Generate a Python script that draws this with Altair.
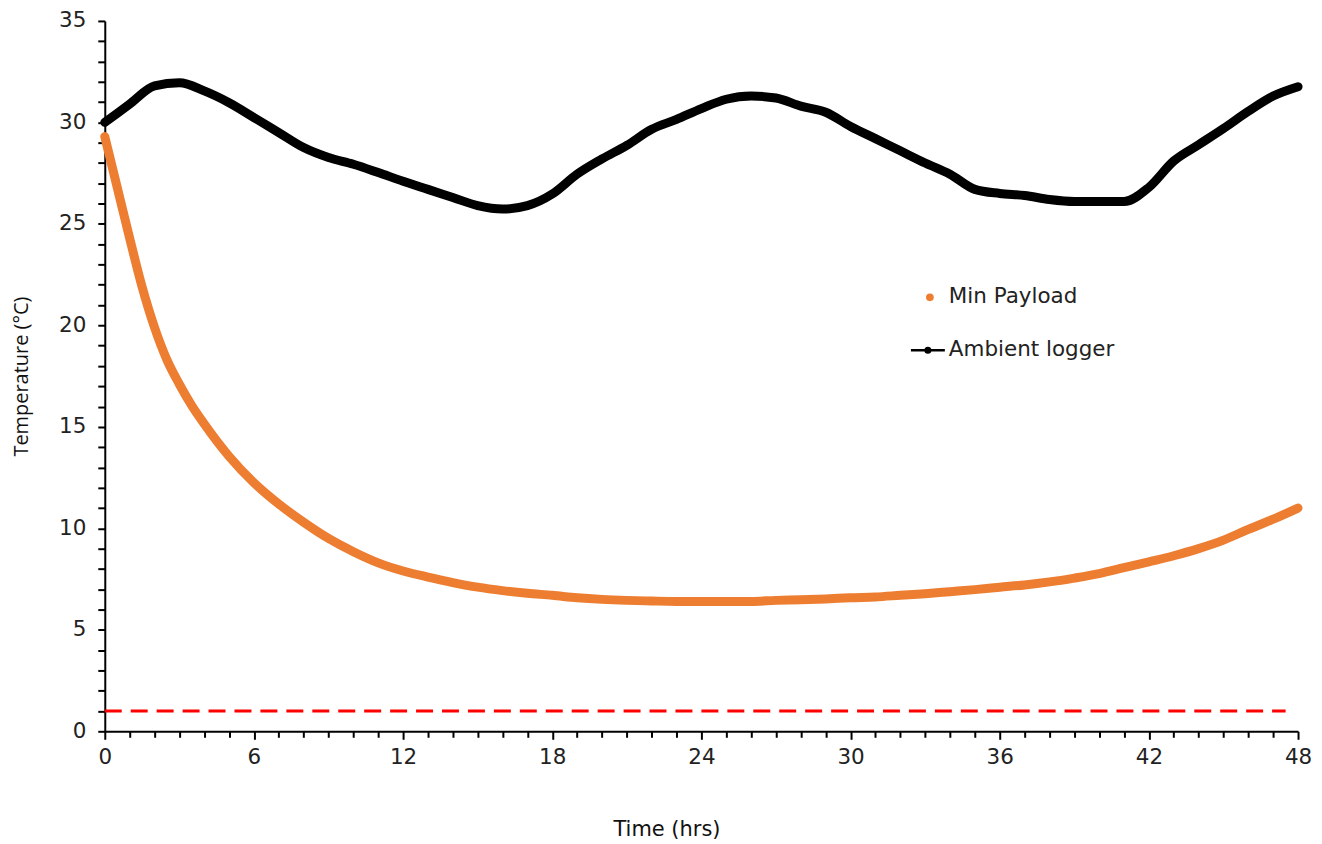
import altair as alt
import pandas as pd

# ---------------- data ----------------
amb_t = list(range(0, 49))
amb_temp = [30.0, 30.9, 31.8, 31.95, 31.55, 30.97, 30.24, 29.5, 28.76, 28.27,
            27.94, 27.53, 27.1, 26.7, 26.3, 25.9, 25.73, 25.9, 26.47, 27.45,
            28.2, 28.87, 29.66, 30.15, 30.68, 31.14, 31.3, 31.2, 30.8, 30.5,
            29.8, 29.2, 28.6, 28.0, 27.45, 26.7, 26.5, 26.4, 26.2, 26.1,
            26.1, 26.1, 26.8, 28.1, 28.9, 29.7, 30.55, 31.3, 31.76]

pay_t = [0, 0.5, 1, 1.5, 2, 2.5, 3, 3.5, 4, 5, 6, 7, 8, 9, 10, 11, 12, 13, 14,
         15, 16, 17, 18, 19, 20, 21, 22, 23, 24, 25, 26, 27, 28, 29, 30, 31,
         32, 33, 34, 35, 36, 37, 38, 39, 40, 41, 42, 43, 44, 45, 46, 47, 48]
pay_temp = [29.3, 26.8, 24.3, 21.9, 19.9, 18.3, 17.1, 16.05, 15.15, 13.55,
            12.25, 11.2, 10.3, 9.5, 8.85, 8.3, 7.9, 7.6, 7.33, 7.1, 6.93,
            6.8, 6.7, 6.58, 6.5, 6.45, 6.42, 6.4, 6.4, 6.4, 6.4, 6.45, 6.48,
            6.52, 6.58, 6.62, 6.7, 6.78, 6.88, 6.98, 7.1, 7.21, 7.36, 7.55,
            7.77, 8.06, 8.35, 8.65, 9.0, 9.42, 9.95, 10.45, 11.0]

limit_start = [0]
limit_end = [47.5]
limit_value = [1]

legend_labels = ["Min Payload", "Ambient logger"]

ORANGE = "#ED7D31"
W, H = 1196, 712
TICK_FONT = "DejaVu Sans"

amb = pd.DataFrame({"t": amb_t, "temp": amb_temp})
pay = pd.DataFrame({"t": pay_t, "temp": pay_temp})
lim = pd.DataFrame({"t0": limit_start, "t1": limit_end, "v": limit_value})

xscale = alt.Scale(domain=[0, 48], nice=False, zero=False)
yscale = alt.Scale(domain=[0, 35], nice=False)

xaxis = alt.Axis(
    values=list(range(0, 49)),
    labelExpr="datum.value % 6 === 0 ? datum.label : ''",
    labelOverlap=False, labelBound=False, labelFlush=False,
    grid=False,
    domainColor="black", domainWidth=2,
    tickColor="black", tickWidth=2,
    tickSize={"condition": {"test": "datum.value % 6 === 0", "value": 8}, "value": 6},
    labelFont=TICK_FONT, labelFontSize=21.5, labelColor="#222", labelPadding=7,
    title="Time (hrs)", titleFont=TICK_FONT, titleFontSize=21,
    titleFontWeight="normal", titleColor="#111",
    titleX=563, titleY=98, titleBaseline="middle", titleAlign="center",
)
yaxis = alt.Axis(
    values=list(range(0, 36)),
    labelExpr="datum.value % 5 === 0 ? datum.label : ''",
    labelOverlap=False, labelBound=False, labelFlush=False,
    grid=False,
    domainColor="black", domainWidth=2,
    tickColor="black", tickWidth=2, tickSize=7,
    labelFont=TICK_FONT, labelFontSize=21.5, labelColor="#222", labelPadding=12,
    title="Temperature (°C)", titleFont="Open Sans", titleFontSize=20,
    titleFontWeight="normal", titleColor="#111",
    titleX=-83, titleY=H / 2, titleBaseline="middle", titleAlign="center",
    titleAngle=270,
)

limit_layer = alt.Chart(lim).mark_rule(
    color="#FF0000", strokeWidth=3, strokeDash=[17, 9]
).encode(
    x=alt.X("t0:Q", scale=xscale, axis=xaxis),
    x2="t1:Q",
    y=alt.Y("v:Q", scale=yscale, axis=yaxis),
)

pay_layer = alt.Chart(pay).mark_line(
    color=ORANGE, strokeWidth=9, strokeCap="round", strokeJoin="round",
    interpolate="monotone"
).encode(
    x=alt.X("t:Q", scale=xscale, axis=xaxis),
    y=alt.Y("temp:Q", scale=yscale, axis=yaxis),
)

amb_layer = alt.Chart(amb).mark_line(
    color="black", strokeWidth=9, strokeCap="round", strokeJoin="round",
    interpolate="monotone"
).encode(
    x=alt.X("t:Q", scale=xscale, axis=xaxis),
    y=alt.Y("temp:Q", scale=yscale, axis=yaxis),
)

# manual legend (positions in pixels of the plot area)
leg1 = pd.DataFrame({"label": [legend_labels[0]]})
leg2 = pd.DataFrame({"label": [legend_labels[1]]})

leg_dot1 = alt.Chart(leg1).mark_point(
    filled=True, color=ORANGE, size=60, opacity=1
).encode(x=alt.value(827), y=alt.value(277))
leg_text1 = alt.Chart(leg1).mark_text(
    align="left", baseline="middle", font=TICK_FONT, fontSize=21.5, color="#222"
).encode(x=alt.value(846), y=alt.value(277), text="label:N")

leg_line2 = alt.Chart(leg2).mark_rule(color="black", strokeWidth=2.5).encode(
    x=alt.value(808), x2=alt.value(842), y=alt.value(330)
)
leg_dot2 = alt.Chart(leg2).mark_point(
    filled=True, color="black", size=50, opacity=1
).encode(x=alt.value(825), y=alt.value(330))
leg_text2 = alt.Chart(leg2).mark_text(
    align="left", baseline="middle", font=TICK_FONT, fontSize=21.5, color="#222"
).encode(x=alt.value(846), y=alt.value(330), text="label:N")

chart = alt.layer(
    limit_layer, pay_layer, amb_layer,
    leg_dot1, leg_text1, leg_line2, leg_dot2, leg_text2,
).properties(
    width=W, height=H,
    autosize=alt.AutoSizeParams(type="none"),
    padding={"left": 97, "top": 12, "right": 16, "bottom": 110},
    background="white",
).configure_view(stroke=None).configure_axis(labelOverlap=False)

chart.save("out.html", embed_options={"renderer": "svg", "actions": False})
